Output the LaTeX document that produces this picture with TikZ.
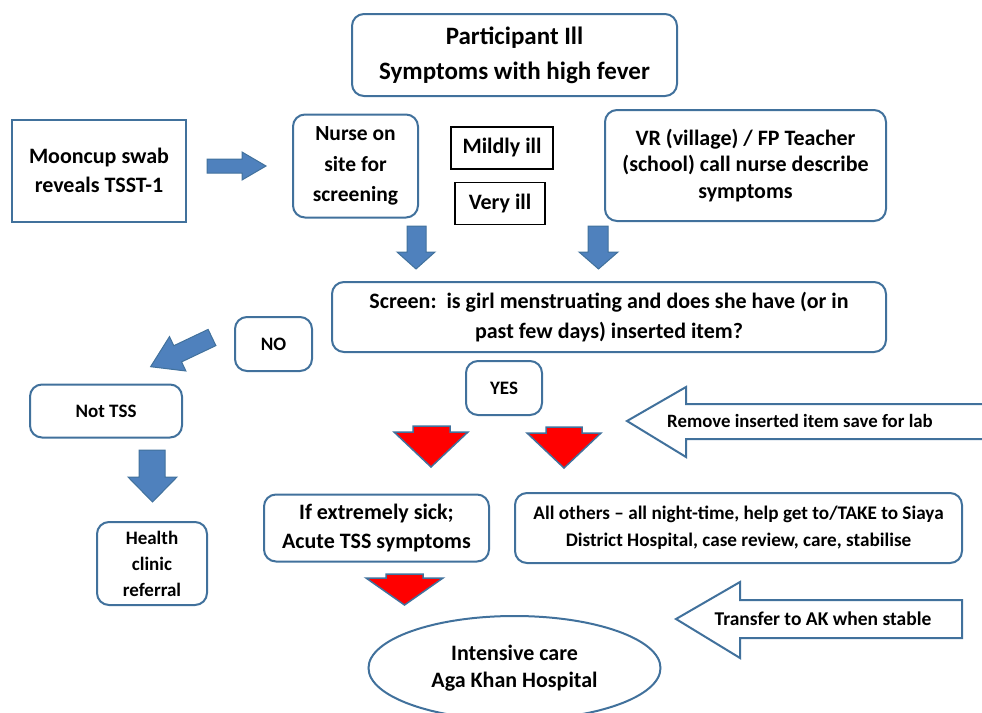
\documentclass[tikz,border=0pt]{standalone}
\usepackage{fontspec}
\setmainfont{Carlito}
\usetikzlibrary{shapes.geometric}
\definecolor{bdr}{HTML}{41719C}
\definecolor{arrblue}{HTML}{4F81BD}
\definecolor{arrred}{HTML}{FF0000}
\begin{document}
\begin{tikzpicture}[x=1pt,y=-1pt,
  rbox/.style={draw=bdr, line width=2pt, rounded corners=12pt, fill=white, align=center, inner sep=0pt},
  sbox/.style={draw=bdr, line width=2pt, fill=white, align=center, inner sep=0pt},
  kbox/.style={draw=black, line width=1.3pt, fill=white, align=center, inner sep=0pt},
  ebox/.style={draw=bdr, line width=2pt, ellipse, fill=white, align=center, inner sep=0pt},
  blk/.style={fill=arrblue, draw=bdr, line width=1pt, line join=miter},
  redblk/.style={fill=arrred, draw=bdr, line width=1.5pt, line join=miter},
  whblk/.style={fill=white, draw=bdr, line width=2pt, line join=miter},
  fA/.style={font=\bfseries\fontsize{25}{35}\selectfont},
  fB/.style={font=\bfseries\fontsize{22}{30}\selectfont},
  fC/.style={font=\bfseries\fontsize{19}{27}\selectfont},
  lbl/.style={align=center, inner sep=0pt}
]
\useasboundingbox (0,0) rectangle (982,712);

% boxes
\node[rbox, fA, minimum width=325pt, minimum height=82pt] (title) at (514.5,55) {Participant Ill\\Symptoms with high fever};
\node[sbox, minimum width=174pt, minimum height=102pt, font=\bfseries\fontsize{22}{29}\selectfont] (moon) at (99,170.5) {Mooncup swab\\reveals TSST-1};
\node[rbox, minimum width=125pt, minimum height=103pt, font=\bfseries\fontsize{21.5}{30.5}\selectfont] (nurse) at (355.5,166) {Nurse on\\site for\\screening};
\node[kbox, fB, minimum width=102pt, minimum height=42pt] (mild) at (502,148) {Mildly ill};
\node[kbox, fB, minimum width=90pt, minimum height=42pt] (very) at (500,203.5) {Very ill};
\node[rbox, minimum width=281pt, minimum height=111pt, font=\bfseries\fontsize{22}{26.5}\selectfont] (vr) at (745.5,165.5) {VR (village) / FP Teacher\\(school) call nurse describe\\symptoms};
\node[rbox, fB, minimum width=554pt, minimum height=70pt] (screen) at (609,317) {Screen:\ \ is girl menstruating and does she have (or in\\past few days) inserted item?};
\node[rbox, fC, minimum width=77pt, minimum height=54pt] (no) at (273.5,344) {NO};
\node[rbox, fC, minimum width=152pt, minimum height=53pt] (nottss) at (106,411) {Not TSS};
\node[rbox, minimum width=110pt, minimum height=83pt, font=\bfseries\fontsize{19}{26}\selectfont] (health) at (152,563.5) {Health\\clinic\\referral};
\node[rbox, fC, minimum width=76pt, minimum height=54pt] (yes) at (504,388) {YES};
\node[rbox, minimum width=225pt, minimum height=67pt, font=\bfseries\fontsize{22}{29}\selectfont] (extreme) at (376.5,528) {If extremely sick;\\Acute TSS symptoms};
\node[rbox, minimum width=447pt, minimum height=70pt, font=\bfseries\fontsize{19.2}{27}\selectfont] (others) at (738.5,528) {All others -- all night-time, help get to/TAKE to Siaya\\District Hospital, case review, care, stabilise};
\node[ebox, minimum width=292pt, minimum height=104pt, font=\bfseries\fontsize{22}{27}\selectfont] (icu) at (514.5,668) {Intensive care\\Aga Khan Hospital};

% blue block arrows
\draw[blk] (207,159) -- (242,159) -- (242,152) -- (266,166) -- (242,180) -- (242,173) -- (207,173) -- cycle;
\draw[blk] (407,226) -- (426,226) -- (426,252) -- (435,252) -- (416,269) -- (397,252) -- (407,252) -- cycle;
\draw[blk] (588,226) -- (608,226) -- (608,252) -- (618,252) -- (598.5,269) -- (579,252) -- (588,252) -- cycle;
\draw[blk] (208.1,329.4) -- (173.8,345.7) -- (169.5,336.6) -- (150.6,366.7) -- (185.9,371.0) -- (181.6,361.9) -- (215.9,345.6) -- cycle;
\draw[blk] (139,450) -- (165,450) -- (165,477) -- (177,477) -- (152.5,502) -- (128,477) -- (139,477) -- cycle;

% red block arrows
\draw[redblk] (413,426) -- (450,426) -- (450,432) -- (468,432) -- (431,467) -- (394,432) -- (413,432) -- cycle;
\draw[redblk] (546,427) -- (582,427) -- (582,433) -- (601,433) -- (564,468) -- (527,433) -- (546,433) -- cycle;
\draw[redblk] (386,574) -- (423,574) -- (423,578) -- (443,578) -- (404.5,605) -- (366,578) -- (386,578) -- cycle;

% white callout arrows
\draw[whblk] (627,421) -- (686,387) -- (686,404) -- (992,404) -- (992,439) -- (686,439) -- (686,457) -- cycle;
\node[lbl, font=\bfseries\fontsize{18.8}{26}\selectfont] (remove) at (800,421) {Remove inserted item save for lab};
\draw[whblk] (676,619) -- (740,582) -- (740,600) -- (962,600) -- (962,638) -- (740,638) -- (740,658) -- cycle;
\node[lbl, font=\bfseries\fontsize{19.5}{26}\selectfont] (transfer) at (823,619) {Transfer to AK when stable};
\end{tikzpicture}
\end{document}
